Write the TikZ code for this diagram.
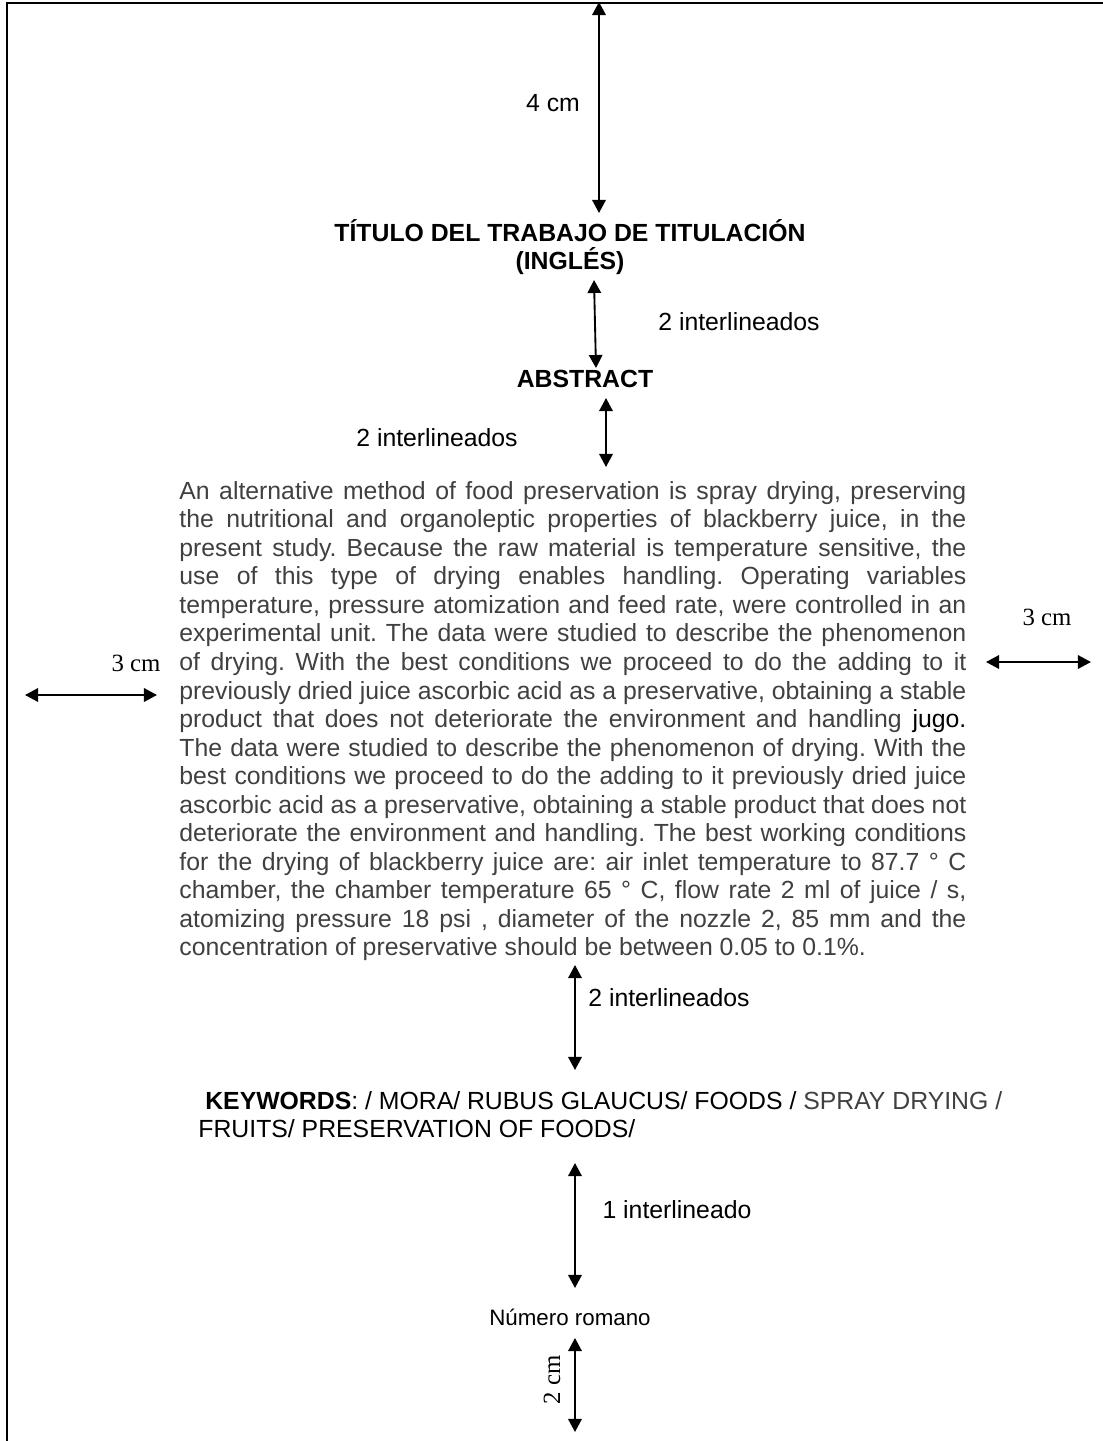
\documentclass[tikz,border=0pt]{standalone}
\usepackage{fontspec}
\setmainfont{Liberation Sans}
\newfontfamily\seriff{Liberation Serif}
\usetikzlibrary{arrows.meta}
\definecolor{gristexto}{RGB}{64,64,64}
\setlength{\parindent}{0pt}
\frenchspacing
\tolerance=9999
\hyphenpenalty=10000
\exhyphenpenalty=10000

\begin{document}
\begin{tikzpicture}[x=0.4839pt,y=-0.4839pt,
  flecha/.style={line width=0.9pt,<->,>={Triangle[length=6.3pt,width=6.5pt]}},
  marco/.style={line width=1pt},
  etiqueta/.style={inner sep=0pt,font=\fontsize{12}{13.8}\selectfont},
  medida/.style={inner sep=0pt,font=\seriff\fontsize{12}{13.8}\selectfont},
  titulo/.style={inner sep=0pt,align=center,font=\bfseries\fontsize{12}{13.8}\selectfont},
  cuerpo/.style={inner sep=0pt,text width=380.8pt,align=justify,text=gristexto,font=\fontsize{12}{13.8}\selectfont\frenchspacing}]
\useasboundingbox (0,0) rectangle (1103,1441);
\draw[marco] (7,1441) -- (7,3) -- (1103,3);

\coordinate (a1) at (599,2);
\coordinate (b1) at (599,213);
\coordinate (a2) at (594,280);
\coordinate (b2) at (596,368);
\coordinate (a3) at (606,398);
\coordinate (b3) at (606,467);
\coordinate (izq1) at (25,695);
\coordinate (izq2) at (157,695);
\coordinate (der1) at (986,662);
\coordinate (der2) at (1091,662);
\coordinate (a4) at (575,965);
\coordinate (b4) at (575,1070);
\coordinate (a5) at (575,1163);
\coordinate (b5) at (575,1288);
\coordinate (a6) at (575,1338);
\coordinate (b6) at (575,1432);

\node[etiqueta] (cuatro) at (553,103) {4 cm};
\node[titulo] (tit) at (570,247) {TÍTULO DEL TRABAJO DE TITULACIÓN\\(INGLÉS)};
\node[etiqueta] (inter1) at (739,322) {2 interlineados};
\node[titulo] (abs) at (585,379) {ABSTRACT};
\node[etiqueta] (inter2) at (437,438) {2 interlineados};
\node[cuerpo,anchor=north west] (resumen) at (179,481) {An alternative method of food preservation is spray drying, preserving\linebreak
the nutritional and organoleptic properties of blackberry juice, in the\linebreak
present study. Because the raw material is temperature sensitive, the\linebreak
use of this type of drying enables handling. Operating variables\linebreak
temperature, pressure atomization and feed rate, were controlled in an\linebreak
experimental unit. The data were studied to describe the phenomenon\linebreak
of drying. With the best conditions we proceed to do the adding to it\linebreak
previously dried juice ascorbic acid as a preservative, obtaining a stable\linebreak
product that does not deteriorate the environment and handling {\color{black}jugo.}\linebreak
The data were studied to describe the phenomenon of drying. With the\linebreak
best conditions we proceed to do the adding to it previously dried juice\linebreak
ascorbic acid as a preservative, obtaining a stable product that does not\linebreak
deteriorate the environment and handling. The best working conditions\linebreak
for the drying of blackberry juice are: air inlet temperature to 87.7 ° C\linebreak
chamber, the chamber temperature 65 ° C, flow rate 2 ml of juice / s,\linebreak
atomizing pressure 18 psi , diameter of the nozzle 2, 85 mm and the\linebreak
concentration of preservative should be between 0.05 to 0.1\%.};
\node[medida] (tresizq) at (136,663) {3 cm};
\node[medida] (tresder) at (1047,617) {3 cm};
\node[etiqueta] (inter3) at (669,998) {2 interlineados};
\node[etiqueta,anchor=north west,align=left] (clave) at (198,1091) {\hspace*{0.278em}\textbf{KEYWORDS}: / MORA/ RUBUS GLAUCUS/ FOODS / {\color{gristexto}SPRAY DRYING /}\\FRUITS/ PRESERVATION OF FOODS/};
\node[etiqueta] (inter4) at (677,1210) {1 interlineado};
\node[etiqueta,font=\fontsize{10.8}{13}\selectfont] (romano) at (570,1317) {Número romano};
\node[medida,rotate=90] (doscm) at (552,1380) {2 cm};

\draw[flecha] (a1) -- (b1);
\draw[flecha] (a2) -- (b2);
\draw[flecha] (a3) -- (b3);
\draw[flecha] (izq1) -- (izq2);
\draw[flecha] (der1) -- (der2);
\draw[flecha] (a4) -- (b4);
\draw[flecha] (a5) -- (b5);
\draw[flecha] (a6) -- (b6);
\end{tikzpicture}
\end{document}
